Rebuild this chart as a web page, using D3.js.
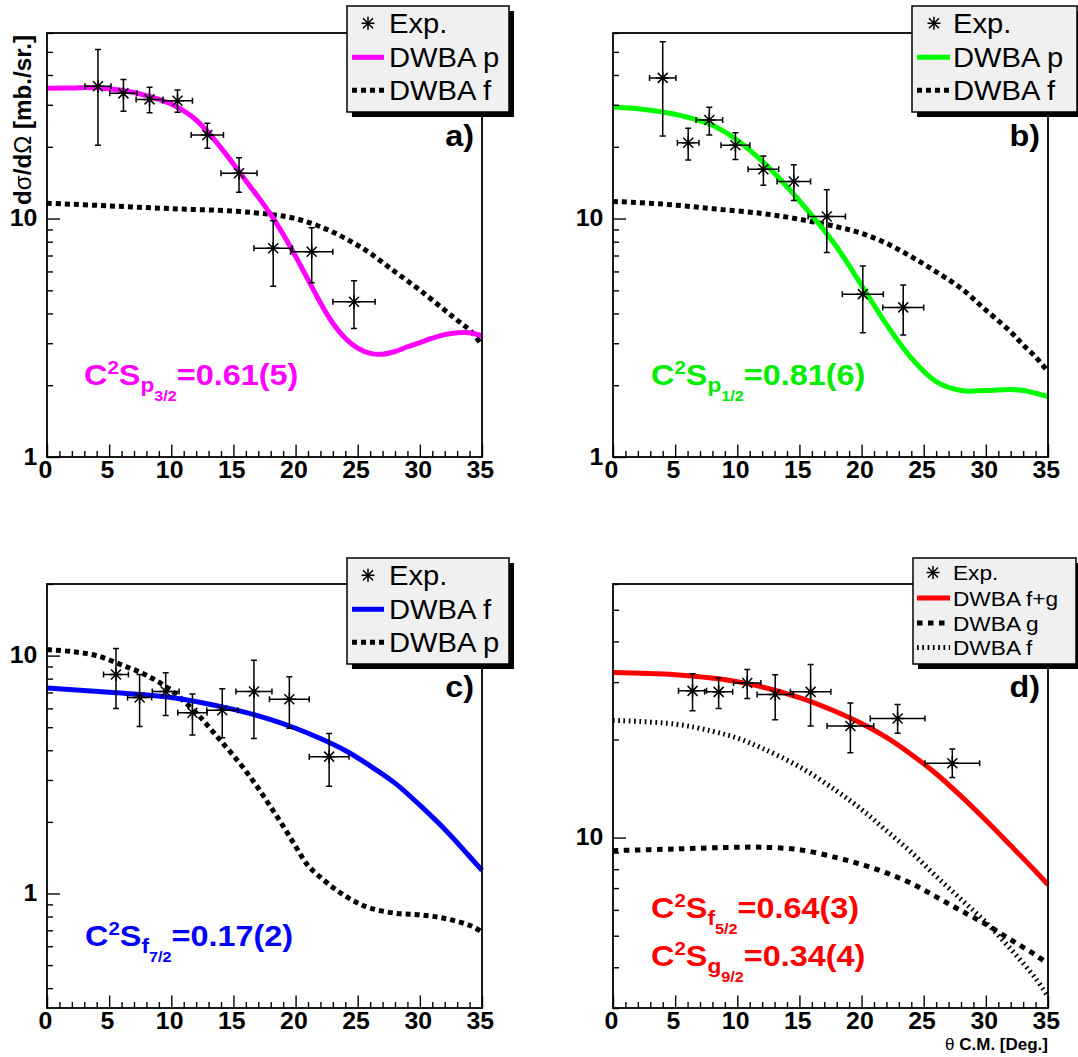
<!DOCTYPE html>
<html><head><meta charset="utf-8">
<script src="https://cdn.jsdelivr.net/npm/d3@7"></script>
<style>
body{margin:0;background:#fff}
text{font-family:"Liberation Sans",Arial,Helvetica,sans-serif}
</style>
</head><body>
<svg id="c" width="1078" height="1057" xmlns="http://www.w3.org/2000/svg"></svg>
<script>
// ---------------- data ----------------
const xMajorTicks = [0, 5, 10, 15, 20, 25, 30, 35];

// panel a
const aExpTheta    = [4.1, 6.15, 8.25, 10.5, 12.9, 15.45, 18.2, 21.3, 24.7];
const aExpThetaErr = [1.05, 1.1, 1.08, 1.2, 1.3, 1.45, 1.55, 1.7, 1.7];
const aExpSigma    = [35.9, 33.5, 31.6, 31.2, 22.4, 15.5, 7.5, 7.26, 4.48];
const aExpLow      = [20.3, 28.2, 27.8, 27.9, 19.7, 12.9, 5.2, 5.38, 3.46];
const aExpHigh     = [51.2, 38.3, 35.5, 34.6, 25.1, 18.0, 9.8, 9.15, 5.49];
const aPTheta = [0,2,4,6,8,10,12,14,16,17,18,19,20,21,22,23,24,25,26,27,28,29,30,31,32,33,34,35];
const aPSigma = [35.2,35.3,35.4,34.5,32.8,30.2,25.9,19.8,14.4,12.3,10.4,8.6,6.95,5.55,4.43,3.64,3.15,2.86,2.72,2.70,2.77,2.90,3.02,3.15,3.26,3.32,3.32,3.22];
const aFTheta = [0,5,10,15,18,20,22,24,26,28,30,32,33,34,35];
const aFSigma = [11.6,11.3,11.0,10.75,10.4,10.0,9.24,8.26,7.15,5.98,5.01,4.13,3.75,3.41,2.95];

// panel b
const bExpTheta    = [4.0, 6.05, 7.75, 9.85, 12.1, 14.55, 17.2, 20.1, 23.35];
const bExpThetaErr = [1.06, 0.87, 1.07, 1.16, 1.23, 1.35, 1.5, 1.65, 1.65];
const bExpSigma    = [38.9, 20.8, 25.9, 20.3, 16.1, 14.3, 10.2, 4.82, 4.24];
const bExpLow      = [22.2, 17.6, 22.4, 17.7, 13.8, 11.9, 7.2, 3.32, 3.25];
const bExpHigh     = [55.1, 23.9, 29.3, 22.9, 18.3, 16.8, 13.2, 6.32, 5.26];
const bPTheta = [0,2,4,6,8,10,12,14,16,18,20,22,24,26,28,30,32,33,34,35];
const bPSigma = [29.3,28.9,28.0,26.6,24.6,21.3,17.4,13.6,10.3,7.6,5.25,3.6,2.6,2.07,1.9,1.9,1.92,1.9,1.85,1.79];
const bFTheta = [0,4,8,12,15,18,20,22,24,26,28,30,32,33,34,35];
const bFSigma = [11.8,11.5,11.0,10.5,9.93,9.24,8.67,7.87,6.92,5.98,5.10,4.13,3.35,2.95,2.63,2.28];

// panel c
const cExpTheta    = [5.55, 7.45, 9.55, 11.7, 14.1, 16.65, 19.5, 22.7];
const cExpThetaErr = [1.0, 0.97, 1.08, 1.18, 1.25, 1.45, 1.6, 1.6];
const cExpSigma    = [8.33, 6.67, 7.06, 5.75, 5.89, 7.06, 6.56, 3.76];
const cExpLow      = [6.0, 5.03, 5.6, 4.64, 4.51, 4.48, 4.95, 2.82];
const cExpHigh     = [10.7, 8.33, 8.47, 6.9, 7.26, 9.55, 8.14, 4.71];
const cFTheta = [0,5,10,15,18,20,22,24,26,28,30,32,34,35];
const cFSigma = [7.30,7.01,6.67,5.94,5.38,4.95,4.48,3.99,3.44,2.91,2.35,1.86,1.43,1.25];
const cPTheta = [0,2,4,6,8,10,12,13,14,15,16,17,18,19,20,21,22,23,24,25,26,28,30,32,34,35];
const cPSigma = [10.6,10.4,10.0,9.14,8.27,7.13,5.75,5.03,4.37,3.80,3.27,2.77,2.31,1.92,1.58,1.31,1.17,1.06,0.975,0.912,0.868,0.826,0.813,0.785,0.735,0.689];

// panel d
const dExpTheta    = [6.4, 8.5, 10.8, 13.05, 15.9, 19.1, 22.9, 27.3];
const dExpThetaErr = [1.13, 1.13, 1.1, 1.46, 1.63, 1.88, 2.2, 2.2];
const dExpSigma    = [28.2, 28.0, 29.8, 27.5, 28.0, 22.0, 23.2, 16.9];
const dExpLow      = [24.5, 24.9, 26.7, 23.0, 22.0, 18.2, 20.9, 15.3];
const dExpHigh     = [31.8, 30.9, 32.8, 31.6, 34.0, 25.9, 25.6, 18.7];
const dFGTheta = [0,5,10,15,18,20,22,24,26,28,30,32,34,35];
const dFGSigma = [32.1,31.6,30.1,26.9,24.3,22.4,20.3,18.0,15.7,13.4,11.3,9.45,7.88,7.16];
const dGTheta = [0,5,10,12,15,18,20,22,24,26,28,30,32,34,35];
const dGSigma = [9.12,9.23,9.34,9.34,9.18,8.68,8.27,7.79,7.24,6.58,5.97,5.42,4.86,4.36,4.10];
const dFTheta = [0,5,8,10,12,15,18,20,22,24,26,28,30,32,34,35];
const dFSigma = [22.9,22.3,21.2,20.2,18.8,16.5,13.9,12.2,10.5,9.02,7.61,6.47,5.5,4.55,3.70,3.25];

// ---------------- drawing ----------------
const svg = d3.select("#c");
const PW = 435, PH = 424, TS = 1.08;
const FONT = '"Liberation Sans",Arial,Helvetica,sans-serif';

const DOT = "5,4", DOTG = "5.5,5.5", FINE = "1.7,3.6";

const panels = [
  { left: 47, top: 33, yDomain: [1, 60], label: "a)",
    exp: [aExpTheta, aExpThetaErr, aExpSigma, aExpLow, aExpHigh],
    curves: [
      { theta: aPTheta, sigma: aPSigma, color: "#ff00ff", width: 5, label: "DWBA p" },
      { theta: aFTheta, sigma: aFSigma, color: "#000", width: 5, dash: DOT, label: "DWBA f" }],
    legend: { x: 347, y: 6, w: 162, h: 106, size: 27, rows: [33, 67, 100], sample: [352, 384], star: 368, text: 389 },
    ann: { x: 84, y: 385, color: "#ff00ff", lines: [["p", "3/2", "=0.61(5)"]] } },
  { left: 613, top: 33, yDomain: [1, 60], label: "b)",
    exp: [bExpTheta, bExpThetaErr, bExpSigma, bExpLow, bExpHigh],
    curves: [
      { theta: bPTheta, sigma: bPSigma, color: "#00ff00", width: 5, label: "DWBA p" },
      { theta: bFTheta, sigma: bFSigma, color: "#000", width: 5, dash: DOT, label: "DWBA f" }],
    legend: { x: 912, y: 6, w: 165, h: 106, size: 27, rows: [33, 67, 100], sample: [917, 950], star: 934, text: 953 },
    ann: { x: 651, y: 385, color: "#00ee00", lines: [["p", "1/2", "=0.81(6)"]] } },
  { left: 47, top: 584, yDomain: [0.33, 20], label: "c)",
    exp: [cExpTheta, cExpThetaErr, cExpSigma, cExpLow, cExpHigh],
    curves: [
      { theta: cFTheta, sigma: cFSigma, color: "#0000ff", width: 5, label: "DWBA f" },
      { theta: cPTheta, sigma: cPSigma, color: "#000", width: 5, dash: DOT, label: "DWBA p" }],
    legend: { x: 347, y: 558, w: 162, h: 106, size: 27, rows: [585, 619, 652], sample: [352, 384], star: 368, text: 389 },
    ann: { x: 85, y: 946, color: "#0000ff", lines: [["f", "7/2", "=0.17(2)"]] } },
  { left: 613, top: 584, yDomain: [3, 60], label: "d)",
    exp: [dExpTheta, dExpThetaErr, dExpSigma, dExpLow, dExpHigh],
    curves: [
      { theta: dFGTheta, sigma: dFGSigma, color: "#ff0000", width: 5, label: "DWBA f+g" },
      { theta: dGTheta, sigma: dGSigma, color: "#000", width: 5, dash: DOTG, label: "DWBA g" },
      { theta: dFTheta, sigma: dFSigma, color: "#000", width: 5, dash: FINE, label: "DWBA f" }],
    legend: { x: 913, y: 558, w: 163, h: 106, size: 21, rows: [580, 605.5, 630.5, 655], sample: [917, 950], star: 933, text: 953 },
    ann: { x: 651, y: 918, color: "#ff0000", lines: [["f", "5/2", "=0.64(3)"], ["g", "9/2", "=0.34(4)"]], gap: 48 } }
];

const starPath = "M0,-6.5V6.5M-6.5,0H6.5M-5,-5L5,5M-5,5L5,-5";

function richText(parent, x, y, pieces, color) {
  const g = parent.append("g").attr("transform", `translate(${x},${y}) scale(${TS},1)`);
  let cx = 0;
  pieces.forEach(pc => {
    const t = g.append("text").attr("x", cx).attr("y", pc.dy)
      .attr("font-size", pc.size).attr("font-weight", "bold").attr("fill", color).text(pc.t);
    cx += t.node().getComputedTextLength();
  });
}

panels.forEach(p => {
  const g = svg.append("g");
  const x = d3.scaleLinear([0, 35], [p.left, p.left + PW]);
  const y = d3.scaleLog(p.yDomain, [p.top + PH, p.top]);

  // curves
  const line = d3.line().x(d => x(d[0])).y(d => y(d[1])).curve(d3.curveCatmullRom.alpha(0.5));
  p.curves.slice().reverse().forEach(c => {
    g.append("path").datum(d3.zip(c.theta, c.sigma)).attr("d", line)
      .attr("fill", "none").attr("stroke", c.color).attr("stroke-width", c.width)
      .attr("stroke-dasharray", c.dash || null);
  });

  // experimental points with error bars
  const [th, thErr, sg, lo, hi] = p.exp;
  const pts = th.map((t, i) => ({ t, e: thErr[i], s: sg[i], lo: lo[i], hi: hi[i] }));
  const eg = g.append("g").attr("stroke", "#000").attr("stroke-width", 1.5).attr("fill", "none");
  pts.forEach(d => {
    const px = x(d.t), py = y(d.s), x0 = x(d.t - d.e), x1 = x(d.t + d.e), y0 = y(d.lo), y1 = y(d.hi);
    eg.append("path").attr("d",
      `M${x0},${py}H${x1}M${px},${y0}V${y1}` +
      `M${x0},${py - 3}V${py + 3}M${x1},${py - 3}V${py + 3}` +
      `M${px - 3},${y0}H${px + 3}M${px - 3},${y1}H${px + 3}`);
    eg.append("path").attr("d", starPath).attr("transform", `translate(${px},${py})`);
  });

  // axes (inside ticks)
  const xMinor = d3.range(0, 36).filter(v => v % 5 !== 0);
  const ax = g.append("g").attr("transform", `translate(0,${p.top + PH})`)
    .call(d3.axisBottom(x).tickValues(xMajorTicks).tickSize(-12.5).tickSizeOuter(0).tickPadding(5));
  const axm = g.append("g").attr("transform", `translate(0,${p.top + PH})`)
    .call(d3.axisBottom(x).tickValues(xMinor).tickSize(-6).tickSizeOuter(0).tickFormat(""));
  [ax, axm].forEach(a => { a.select(".domain").remove(); a.selectAll("line").attr("stroke-width", 1.4); });
  ax.selectAll("text").attr("font-size", 23).attr("font-weight", "bold").attr("font-family", FONT)
    .attr("x", -2).attr("transform", `scale(${TS},1)`);

  const [ylo, yhi] = p.yDomain;
  const yMaj = [], yMin = [];
  for (let k = Math.floor(Math.log10(ylo)); k <= Math.ceil(Math.log10(yhi)); k++) {
    for (let m = 1; m <= 9; m++) {
      const v = +(m * Math.pow(10, k)).toPrecision(6);
      if (v < ylo * 0.9999 || v > yhi * 1.0001) continue;
      if (m === 1) yMaj.push(v); else yMin.push(v);
    }
  }
  const ay = g.append("g").attr("transform", `translate(${p.left},0)`)
    .call(d3.axisLeft(y).tickValues(yMaj).tickSize(-13).tickSizeOuter(0).tickPadding(9).tickFormat(d3.format("~g")));
  const aym = g.append("g").attr("transform", `translate(${p.left},0)`)
    .call(d3.axisLeft(y).tickValues(yMin).tickSize(-6).tickSizeOuter(0).tickFormat(""));
  [ay, aym].forEach(a => { a.select(".domain").remove(); a.selectAll("line").attr("stroke-width", 1.4); });
  ay.selectAll("text").attr("font-size", 23).attr("font-weight", "bold").attr("font-family", FONT)
    .attr("transform", `scale(${TS},1)`);

  // frame
  g.append("rect").attr("x", p.left).attr("y", p.top).attr("width", PW).attr("height", PH)
    .attr("fill", "none").attr("stroke", "#000").attr("stroke-width", 1.8);

  // panel label
  g.append("text").attr("transform", `translate(${p.left + PW - 8},${p.top + 113}) scale(${TS},1)`)
    .attr("text-anchor", "end").attr("font-size", 30).attr("font-weight", "bold").text(p.label);

  // annotation
  p.ann.lines.forEach((ln, i) => {
    richText(g, p.ann.x, p.ann.y + i * (p.ann.gap || 0), [
      { t: "C", size: 30, dy: 0 }, { t: "2", size: 19, dy: -11 }, { t: "S", size: 30, dy: 0 },
      { t: ln[0], size: 21, dy: 7 }, { t: ln[1], size: 15, dy: 16 }, { t: ln[2], size: 30, dy: 0 }], p.ann.color);
  });

  // legend
  const L = p.legend;
  const lg = svg.append("g");
  lg.append("rect").attr("x", L.x + 5).attr("y", L.y + 5).attr("width", L.w).attr("height", L.h).attr("fill", "#000");
  lg.append("rect").attr("x", L.x).attr("y", L.y).attr("width", L.w).attr("height", L.h)
    .attr("fill", "#f0f0f0").attr("stroke", "#000").attr("stroke-width", 1.5);
  const capMid = L.size * 0.36;
  lg.append("path").attr("d", starPath).attr("stroke", "#000").attr("stroke-width", 1.5)
    .attr("transform", `translate(${L.star},${L.rows[0] - capMid})`);
  lg.append("text").attr("transform", `translate(${L.text},${L.rows[0]}) scale(${TS},1)`)
    .attr("font-size", L.size).text("Exp.");
  p.curves.forEach((c, i) => {
    const ry = L.rows[i + 1];
    lg.append("line").attr("x1", L.sample[0]).attr("x2", L.sample[1]).attr("y1", ry - capMid).attr("y2", ry - capMid)
      .attr("stroke", c.color).attr("stroke-width", c.width).attr("stroke-dasharray", c.dash || null);
    lg.append("text").attr("transform", `translate(${L.text},${ry}) scale(${TS},1)`)
      .attr("font-size", L.size).text(c.label);
  });
});

// axis titles
const yt = svg.append("text").attr("transform", "translate(31,35) rotate(-90)")
  .attr("text-anchor", "end").attr("font-size", 24).attr("font-weight", "bold")
  .attr("textLength", 170).attr("lengthAdjust", "spacingAndGlyphs");
yt.append("tspan").text("d");
yt.append("tspan").attr("font-weight", "normal").text("σ");
yt.append("tspan").text("/d");
yt.append("tspan").attr("font-weight", "normal").text("Ω");
yt.append("tspan").text(" [mb./sr.]");

const xt = svg.append("text").attr("transform", "translate(1048,1050)")
  .attr("text-anchor", "end").attr("font-size", 17).attr("font-weight", "bold");
xt.append("tspan").attr("font-weight", "normal").text("θ");
xt.append("tspan").text(" C.M. [Deg.]");
</script>
</body></html>
